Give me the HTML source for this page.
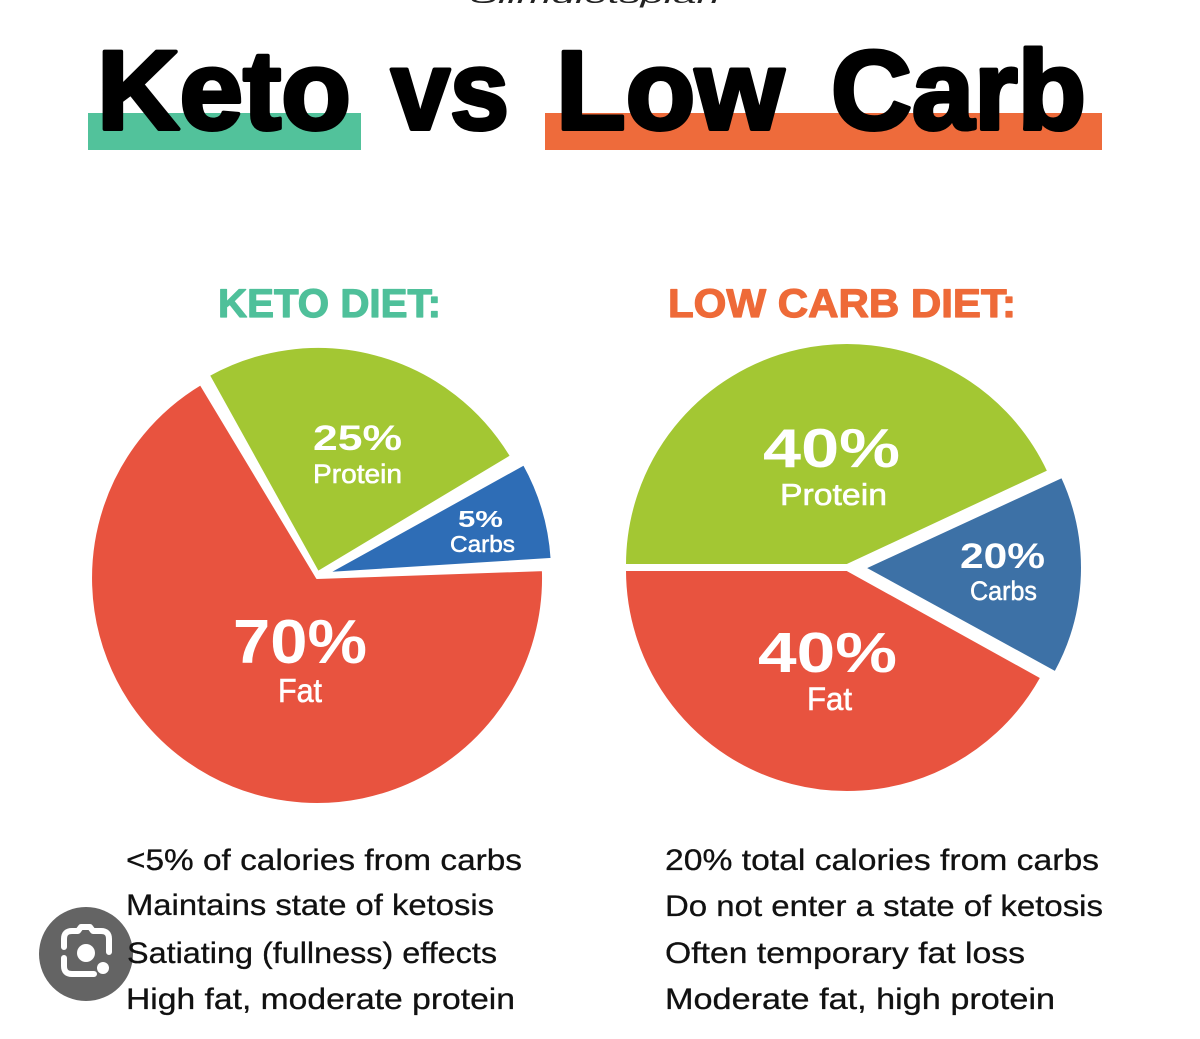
<!DOCTYPE html>
<html>
<head>
<meta charset="utf-8">
<style>
  html, body { margin:0; padding:0; background:#ffffff; }
  body { width:1200px; height:1039px; overflow:hidden; }
  svg { display:block; }
  .t { font-family:"Liberation Sans", Arial, sans-serif; }
</style>
</head>
<body>
<svg width="1200" height="1039" viewBox="0 0 1200 1039" xmlns="http://www.w3.org/2000/svg">
  <rect x="0" y="0" width="1200" height="1039" fill="#ffffff"/>

  <!-- cropped top watermark -->
  <text class="t" x="470" y="3" font-size="22" font-style="italic" fill="#222" textLength="250" lengthAdjust="spacingAndGlyphs">Slimdietsplan</text>

  <!-- title underline bars -->
  <rect x="88" y="113" width="273" height="37" fill="#52c29b"/>
  <rect x="545" y="113" width="557" height="37" fill="#ee6b3b"/>

  <!-- title -->
  <g class="t" font-weight="bold" font-size="112" fill="#000" stroke="#000" stroke-width="4" stroke-linejoin="round">
    <text x="97" y="129" textLength="254" lengthAdjust="spacingAndGlyphs">Keto</text>
    <text x="391" y="129" textLength="118" lengthAdjust="spacingAndGlyphs">vs</text>
    <text x="556" y="129" textLength="228" lengthAdjust="spacingAndGlyphs">Low</text>
    <text x="831" y="129" textLength="255" lengthAdjust="spacingAndGlyphs">Carb</text>
  </g>

  <!-- headings -->
  <g class="t" font-weight="bold" font-size="40" stroke-width="1.2" stroke-linejoin="round">
    <text x="218" y="317" fill="#4fc09a" stroke="#4fc09a" textLength="223" lengthAdjust="spacingAndGlyphs">KETO DIET:</text>
    <text x="668" y="317" fill="#ee6a38" stroke="#ee6a38" textLength="348" lengthAdjust="spacingAndGlyphs">LOW CARB DIET:</text>
  </g>

  <!-- Keto pie -->
  <g stroke="#ffffff" stroke-width="2" stroke-linejoin="round">
    <path d="M317 578 L542.9 570.1 A226 226 0 1 1 200.6 384.3 Z" fill="#e8533f"/>
    <path d="M318 572 L208.9 375.2 A225 225 0 0 1 510.9 456.1 Z" fill="#a3c733"/>
    <path d="M328 573 L523.9 464.4 A224 224 0 0 1 551.6 558.9 Z" fill="#2e6db6"/>
  </g>

  <!-- Low carb pie -->
  <g stroke="#ffffff" stroke-width="2" stroke-linejoin="round">
    <path d="M847 565 L625 565 A222 222 0 0 1 1048.2 471.2 Z" fill="#a3c733"/>
    <path d="M847 570 L1041.2 677.6 A222 222 0 0 1 625 570 Z" fill="#e8533f"/>
    <path d="M865 568 L1062 477 A217 217 0 0 1 1055.3 672.2 Z" fill="#3d71a6"/>
  </g>

  <!-- Keto labels -->
  <g class="t" fill="#ffffff">
    <text x="313" y="450" font-size="35" font-weight="bold" textLength="89" lengthAdjust="spacingAndGlyphs">25%</text>
    <text x="313" y="483" font-size="27" stroke="#fff" stroke-width="0.6" textLength="89" lengthAdjust="spacingAndGlyphs">Protein</text>
    <text x="458" y="527" font-size="23" font-weight="bold" textLength="45" lengthAdjust="spacingAndGlyphs">5%</text>
    <text x="450" y="552" font-size="23" stroke="#fff" stroke-width="0.5" textLength="65" lengthAdjust="spacingAndGlyphs">Carbs</text>
    <text x="233" y="663" font-size="62" font-weight="bold" textLength="134" lengthAdjust="spacingAndGlyphs">70%</text>
    <text x="278" y="702" font-size="33" stroke="#fff" stroke-width="0.6" textLength="44" lengthAdjust="spacingAndGlyphs">Fat</text>
  </g>

  <!-- Low carb labels -->
  <g class="t" fill="#ffffff">
    <text x="763" y="467" font-size="55" font-weight="bold" textLength="137" lengthAdjust="spacingAndGlyphs">40%</text>
    <text x="780" y="505" font-size="31" stroke="#fff" stroke-width="0.6" textLength="107" lengthAdjust="spacingAndGlyphs">Protein</text>
    <text x="960" y="568" font-size="35" font-weight="bold" textLength="85" lengthAdjust="spacingAndGlyphs">20%</text>
    <text x="970" y="600" font-size="27" stroke="#fff" stroke-width="0.5" textLength="67" lengthAdjust="spacingAndGlyphs">Carbs</text>
    <text x="758" y="672" font-size="57" font-weight="bold" textLength="139" lengthAdjust="spacingAndGlyphs">40%</text>
    <text x="807" y="710" font-size="32" stroke="#fff" stroke-width="0.6" textLength="45" lengthAdjust="spacingAndGlyphs">Fat</text>
  </g>

  <!-- Google Lens style overlay -->
  <circle cx="86" cy="954" r="47" fill="#646464"/>
  <g fill="none" stroke="#ffffff" stroke-width="6" stroke-linecap="round" stroke-linejoin="round">
    <path d="M64 947 V939 Q64 931 72 931 H78 L81 927 H90 L93 931 H101 Q109 931 109 939 V952"/>
    <path d="M64 958 V966 Q64 974 72 974 H94"/>
  </g>
  <circle cx="86" cy="953" r="9" fill="#ffffff"/>
  <circle cx="103" cy="968" r="6" fill="#ffffff"/>

  <!-- bottom text -->
  <g class="t" font-size="30" fill="#111111" stroke="#111" stroke-width="0.3">
    <text x="126" y="870" textLength="396" lengthAdjust="spacingAndGlyphs">&lt;5% of calories from carbs</text>
    <text x="126" y="915" textLength="368" lengthAdjust="spacingAndGlyphs">Maintains state of ketosis</text>
    <text x="127" y="963" textLength="370" lengthAdjust="spacingAndGlyphs">Satiating (fullness) effects</text>
    <text x="126" y="1009" textLength="389" lengthAdjust="spacingAndGlyphs">High fat, moderate protein</text>

    <text x="665" y="870" textLength="434" lengthAdjust="spacingAndGlyphs">20% total calories from carbs</text>
    <text x="665" y="916" textLength="438" lengthAdjust="spacingAndGlyphs">Do not enter a state of ketosis</text>
    <text x="665" y="963" textLength="360" lengthAdjust="spacingAndGlyphs">Often temporary fat loss</text>
    <text x="665" y="1009" textLength="390" lengthAdjust="spacingAndGlyphs">Moderate fat, high protein</text>
  </g>
</svg>
</body>
</html>
